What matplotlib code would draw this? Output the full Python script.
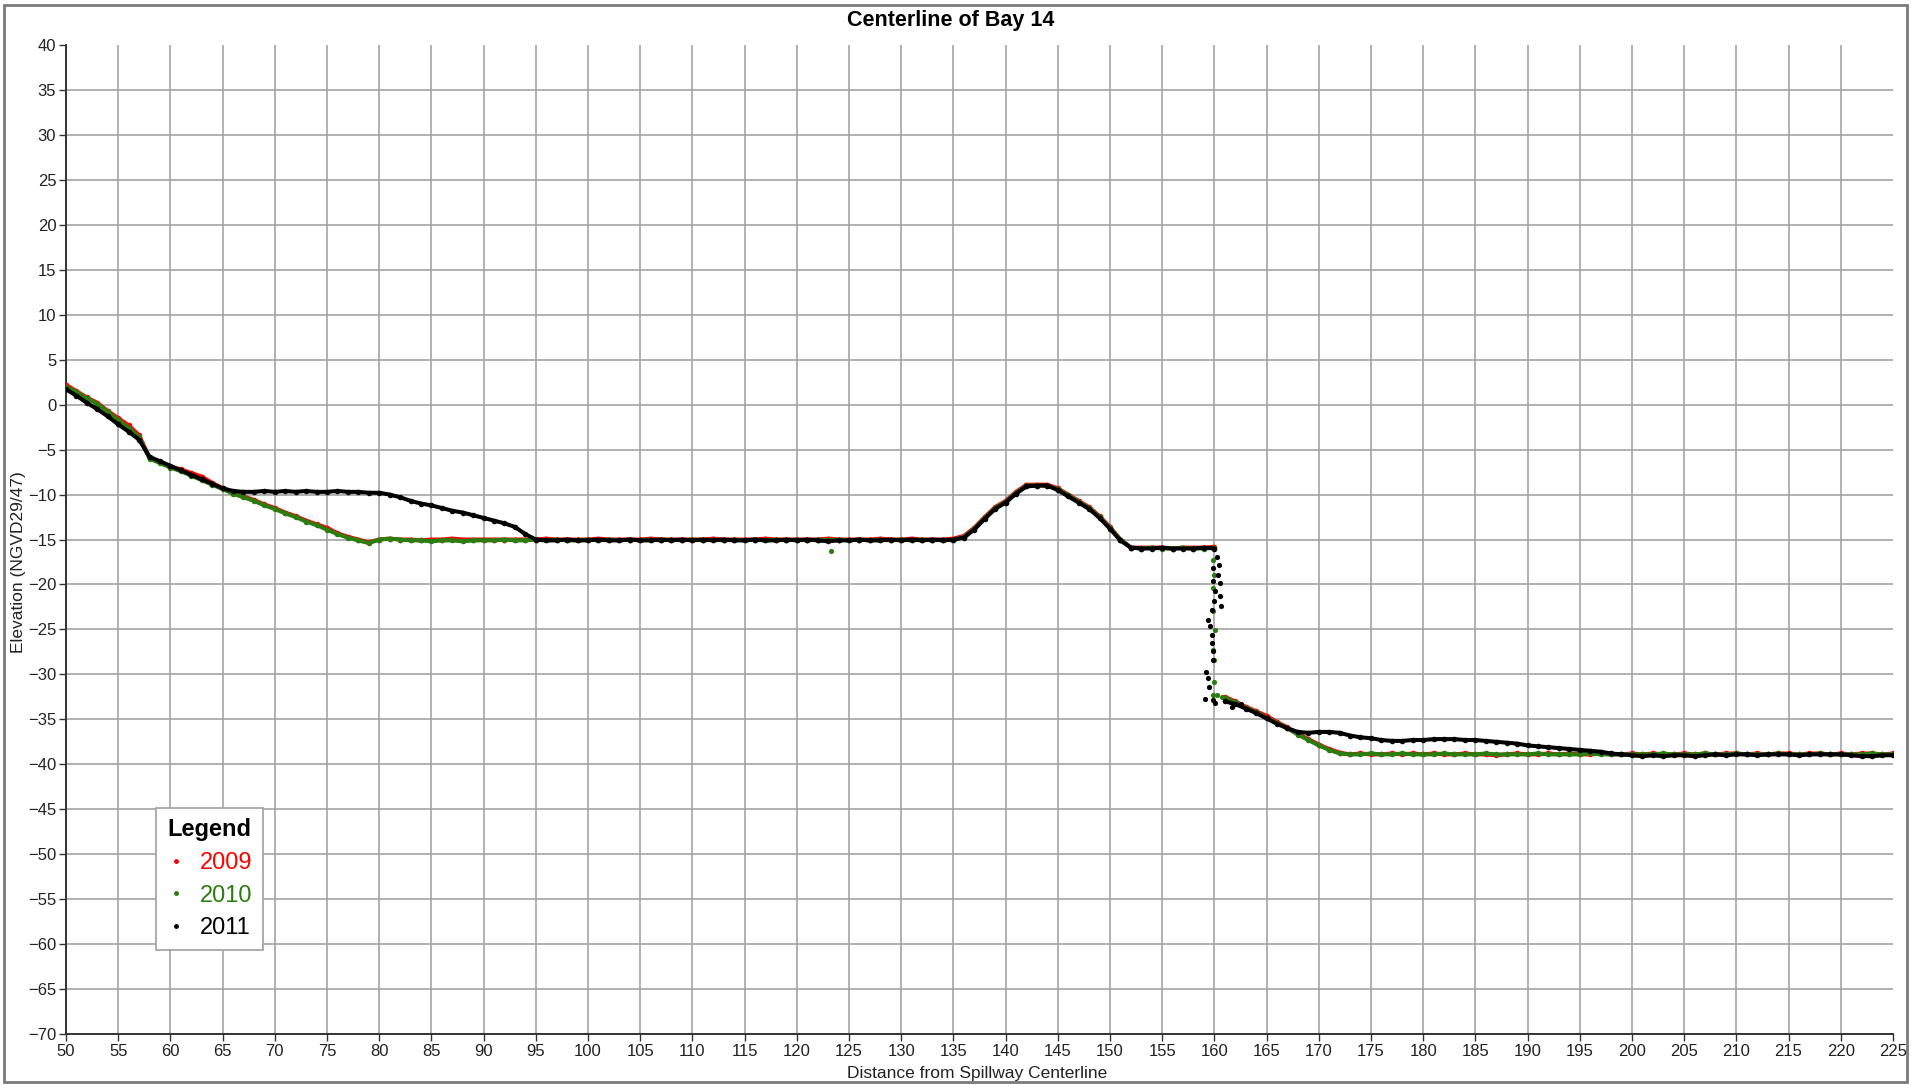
import matplotlib
matplotlib.use("Agg")
import matplotlib.pyplot as plt
from matplotlib.lines import Line2D
from matplotlib.patches import Rectangle

plt.rcParams['font.family'] = ['Liberation Sans', 'DejaVu Sans']

# stations along the centerline (ft), upper reach 50..160 and lower reach 161..225
dist_upper = list(range(50, 161))
dist_lower = list(range(161, 226))

# 2011 survey
elev_2011_upper = [
    1.7, 1.0, 0.2, -0.5, -1.3, -2.2, -3.0, -3.9, -5.8, -6.3,
    -6.8, -7.3, -7.8, -8.3, -8.8, -9.3, -9.6, -9.7, -9.7, -9.6,
    -9.7, -9.6, -9.7, -9.6, -9.7, -9.7, -9.6, -9.7, -9.7, -9.8,
    -9.8, -10.0, -10.3, -10.7, -11.0, -11.2, -11.5, -11.8, -12.0, -12.3,
    -12.6, -12.9, -13.2, -13.6, -14.4, -15.0, -15.1, -15.1, -15.0, -15.1,
    -15.1, -15.0, -15.1, -15.1, -15.0, -15.1, -15.1, -15.0, -15.1, -15.0,
    -15.1, -15.0, -15.1, -15.0, -15.1, -15.1, -15.0, -15.1, -15.1, -15.0,
    -15.1, -15.0, -15.1, -15.2, -15.1, -15.1, -15.0, -15.1, -15.1, -15.0,
    -15.1, -15.0, -15.1, -15.0, -15.1, -15.0, -14.8, -13.9, -12.7, -11.6,
    -10.9, -9.9, -9.1, -9.0, -9.0, -9.5, -10.2, -10.9, -11.6, -12.6,
    -13.8, -15.1, -15.9, -16.0, -16.0, -15.9, -16.0, -16.0, -16.0, -15.9,
    -16.0,
]
elev_2011_lower = [
    -33.0, -33.3, -33.8, -34.3, -34.9, -35.5, -36.0, -36.4, -36.5,
    -36.4, -36.4, -36.5, -36.8, -37.0, -37.1, -37.3, -37.4, -37.4, -37.3,
    -37.3, -37.2, -37.2, -37.2, -37.3, -37.3, -37.4, -37.5, -37.6, -37.7,
    -37.9, -38.0, -38.1, -38.2, -38.3, -38.4, -38.5, -38.6, -38.8, -38.9,
    -39.0, -39.1, -39.0, -39.1, -39.0, -39.0, -39.1, -39.0, -38.9, -39.0,
    -38.9, -38.9, -39.0, -38.9, -38.9, -38.9, -39.0, -38.9, -38.9, -38.9,
    -38.9, -39.0, -39.1, -39.1, -39.0, -39.0,
]
drop_x_2011 = [160.25, 160.4, 159.9, 160.35, 159.9, 160.5, 160.1, 160.55, 160.0, 160.65,
               159.8, 159.4, 159.6, 159.8, 159.8, 159.85, 159.9, 159.2, 159.4, 159.5,
               159.1, 159.9, 160.1, 161.7, 162.6]
drop_y_2011 = [-16.9, -17.8, -18.2, -18.9, -19.6, -19.8, -20.7, -21.3, -21.8, -22.4,
               -22.8, -23.9, -24.6, -25.6, -26.5, -27.4, -28.4, -29.7, -30.4, -31.4,
               -32.7, -32.9, -33.2, -33.6, -33.3]

# 2010 survey
elev_2010_upper = [
    2.0, 1.4, 0.7, 0.1, -0.8, -1.7, -2.6, -3.6, -6.0, -6.5,
    -7.0, -7.4, -7.9, -8.4, -8.9, -9.4, -9.9, -10.3, -10.7, -11.2,
    -11.6, -12.1, -12.5, -13.0, -13.4, -13.9, -14.4, -14.8, -15.1, -15.4,
    -15.0, -14.9, -15.0, -15.1, -15.1, -15.2, -15.1, -15.1, -15.2, -15.1,
    -15.1, -15.1, -15.0, -15.1, -15.1, -15.0, -15.1, -15.0, -15.1, -15.1,
    -15.0, -15.1, -15.0, -15.1, -15.0, -15.1, -15.0, -15.1, -15.0, -15.1,
    -15.0, -15.1, -15.0, -15.1, -15.0, -15.1, -15.0, -15.1, -15.0, -15.1,
    -15.0, -15.1, -15.0, -15.1, -15.0, -15.1, -15.0, -15.1, -15.0, -15.1,
    -15.0, -15.1, -15.0, -15.1, -15.0, -15.1, -14.7, -13.8, -12.6, -11.5,
    -10.8, -9.8, -9.0, -9.0, -9.0, -9.4, -10.1, -10.8, -11.5, -12.5,
    -13.7, -15.0, -15.9, -16.0, -15.9, -16.0, -16.0, -15.9, -16.0, -16.0,
    -15.9,
]
elev_2010_lower = [
    -32.6, -33.1, -33.7, -34.2, -34.8, -35.4, -36.0, -36.7, -37.3,
    -37.9, -38.4, -38.8, -38.9, -38.9, -38.8, -38.9, -38.9, -38.8, -38.9,
    -38.9, -38.9, -38.8, -38.9, -38.9, -38.9, -38.8, -38.9, -38.9, -38.9,
    -38.9, -38.8, -38.9, -38.9, -38.9, -38.9, -38.8, -38.9, -38.9, -38.9,
    -38.9, -38.9, -38.9, -38.8, -38.9, -38.9, -38.9, -38.8, -38.9, -38.9,
    -38.8, -38.9, -38.9, -38.9, -38.8, -38.9, -38.9, -38.9, -38.8, -38.9,
    -38.9, -38.9, -38.9, -38.8, -38.9, -38.9,
]
drop_x_2010 = [159.9, 160.0, 159.9, 159.9, 160.1, 159.9, 160.0, 160.0, 159.9, 160.25, 160.7, 123.3]
drop_y_2010 = [-17.3, -18.9, -20.4, -22.9, -25.1, -27.3, -28.4, -30.8, -32.3, -32.3, -32.5, -16.3]

# 2009 survey
elev_2009_upper = [
    2.2, 1.5, 0.8, 0.2, -0.7, -1.5, -2.3, -3.4, -5.9, -6.4,
    -6.9, -7.2, -7.6, -8.0, -8.7, -9.3, -9.8, -10.2, -10.6, -11.1,
    -11.5, -12.0, -12.4, -12.9, -13.3, -13.7, -14.3, -14.7, -15.0, -15.3,
    -15.0, -14.9, -15.0, -15.0, -15.1, -15.0, -15.0, -14.9, -15.0, -15.0,
    -15.0, -15.0, -15.0, -15.0, -15.0, -15.0, -14.9, -15.0, -15.0, -15.0,
    -15.0, -14.9, -15.0, -15.0, -15.0, -15.0, -14.9, -15.0, -15.0, -15.0,
    -15.0, -15.0, -14.9, -15.0, -15.0, -15.0, -15.0, -14.9, -15.0, -15.0,
    -15.0, -15.0, -15.0, -14.9, -15.0, -15.0, -15.0, -15.0, -14.9, -15.0,
    -15.0, -14.9, -15.0, -15.0, -15.0, -14.9, -14.6, -13.7, -12.5, -11.4,
    -10.7, -9.7, -8.9, -8.9, -8.9, -9.3, -10.0, -10.7, -11.4, -12.4,
    -13.6, -15.0, -15.9, -15.9, -15.9, -15.9, -16.0, -15.9, -15.9, -15.9,
    -15.8,
]
elev_2009_lower = [
    -32.5, -33.0, -33.6, -34.1, -34.6, -35.3, -35.9, -36.6, -37.2,
    -37.8, -38.3, -38.7, -38.9, -38.8, -38.9, -38.9, -38.8, -38.9, -38.8,
    -38.9, -38.8, -38.9, -38.9, -38.8, -38.9, -38.9, -39.0, -38.9, -38.8,
    -38.9, -38.9, -38.8, -38.9, -38.8, -38.9, -38.9, -38.8, -38.9, -38.9,
    -38.8, -38.9, -38.8, -38.9, -38.9, -38.8, -38.9, -38.8, -38.9, -38.8,
    -38.8, -38.9, -38.8, -38.9, -38.8, -38.8, -38.9, -38.8, -38.8, -38.9,
    -38.8, -38.9, -38.8, -38.8, -38.9, -38.8,
]

years = ['2009', '2010', '2011']
colors = ['#ff0000', '#2a7d0e', '#000000']
x_ticks = list(range(50, 226, 5))
y_ticks = list(range(-70, 41, 5))

fig = plt.figure(figsize=(19.13, 10.85), dpi=100)
ax = fig.add_axes([0.0345, 0.047, 0.955, 0.9115])

series = [
    (elev_2009_upper, elev_2009_lower, [], []),
    (elev_2010_upper, elev_2010_lower, drop_x_2010, drop_y_2010),
    (elev_2011_upper, elev_2011_lower, drop_x_2011, drop_y_2011),
]
for (up, low, dx, dy), col in zip(series, colors):
    ax.plot(dist_upper, up, color=col, lw=2.9, solid_capstyle='round', zorder=3)
    ax.plot(dist_lower, low, color=col, lw=2.9, solid_capstyle='round', zorder=3)
    ax.scatter(dist_upper + dist_lower, up + low, s=16, color=col, lw=0, zorder=3)
    if dx:
        ax.scatter(dx, dy, s=14, color=col, lw=0, zorder=3)

ax.set_xlim(50, 225)
ax.set_ylim(-70, 40)
ax.set_xticks(x_ticks)
ax.set_yticks(y_ticks)
ax.tick_params(labelsize=12, length=5, width=1, colors='#333333', labelcolor='#222222', pad=2)
ax.grid(True, color='#a3a3a3', lw=1.2, zorder=1)
ax.set_axisbelow(True)
ax.yaxis.get_gridlines()[-1].set_visible(False)
ax.xaxis.get_gridlines()[-1].set_visible(False)
for side in ['top', 'right']:
    ax.spines[side].set_visible(False)
for side in ['left', 'bottom']:
    ax.spines[side].set_color('#333333')
    ax.spines[side].set_linewidth(1.4)

handles = [Line2D([], [], marker='.', ls='', color=c, ms=5) for c in colors]
leg = ax.legend(handles, years, title='Legend', loc='lower left',
                bbox_to_anchor=(0.0493, 0.085), borderaxespad=0, fontsize=17,
                title_fontproperties={'weight': 'bold', 'size': 17},
                frameon=True, fancybox=False, framealpha=1, edgecolor='#a0a0a0',
                handlelength=0.8, handletextpad=0.6, labelspacing=0.45, borderpad=0.45)
leg.get_frame().set_linewidth(1.2)
for t, c in zip(leg.get_texts(), colors):
    t.set_color(c)

fig.text(0.497, 0.981, 'Centerline of Bay 14', ha='center', va='center',
         fontsize=15.5, fontweight='bold')
fig.text(0.511, 0.0105, 'Distance from Spillway Centerline', ha='center', va='center',
         fontsize=12.5, color='#222222')
fig.text(0.0099, 0.482, 'Elevation (NGVD29/47)', ha='center', va='center',
         rotation=90, fontsize=12.5, color='#222222')

fig.patches.append(Rectangle((0.002, 0.003), 0.995, 0.992, transform=fig.transFigure,
                             fill=False, edgecolor='#7a7a7a', lw=2))

fig.savefig('out.png', dpi=100)
